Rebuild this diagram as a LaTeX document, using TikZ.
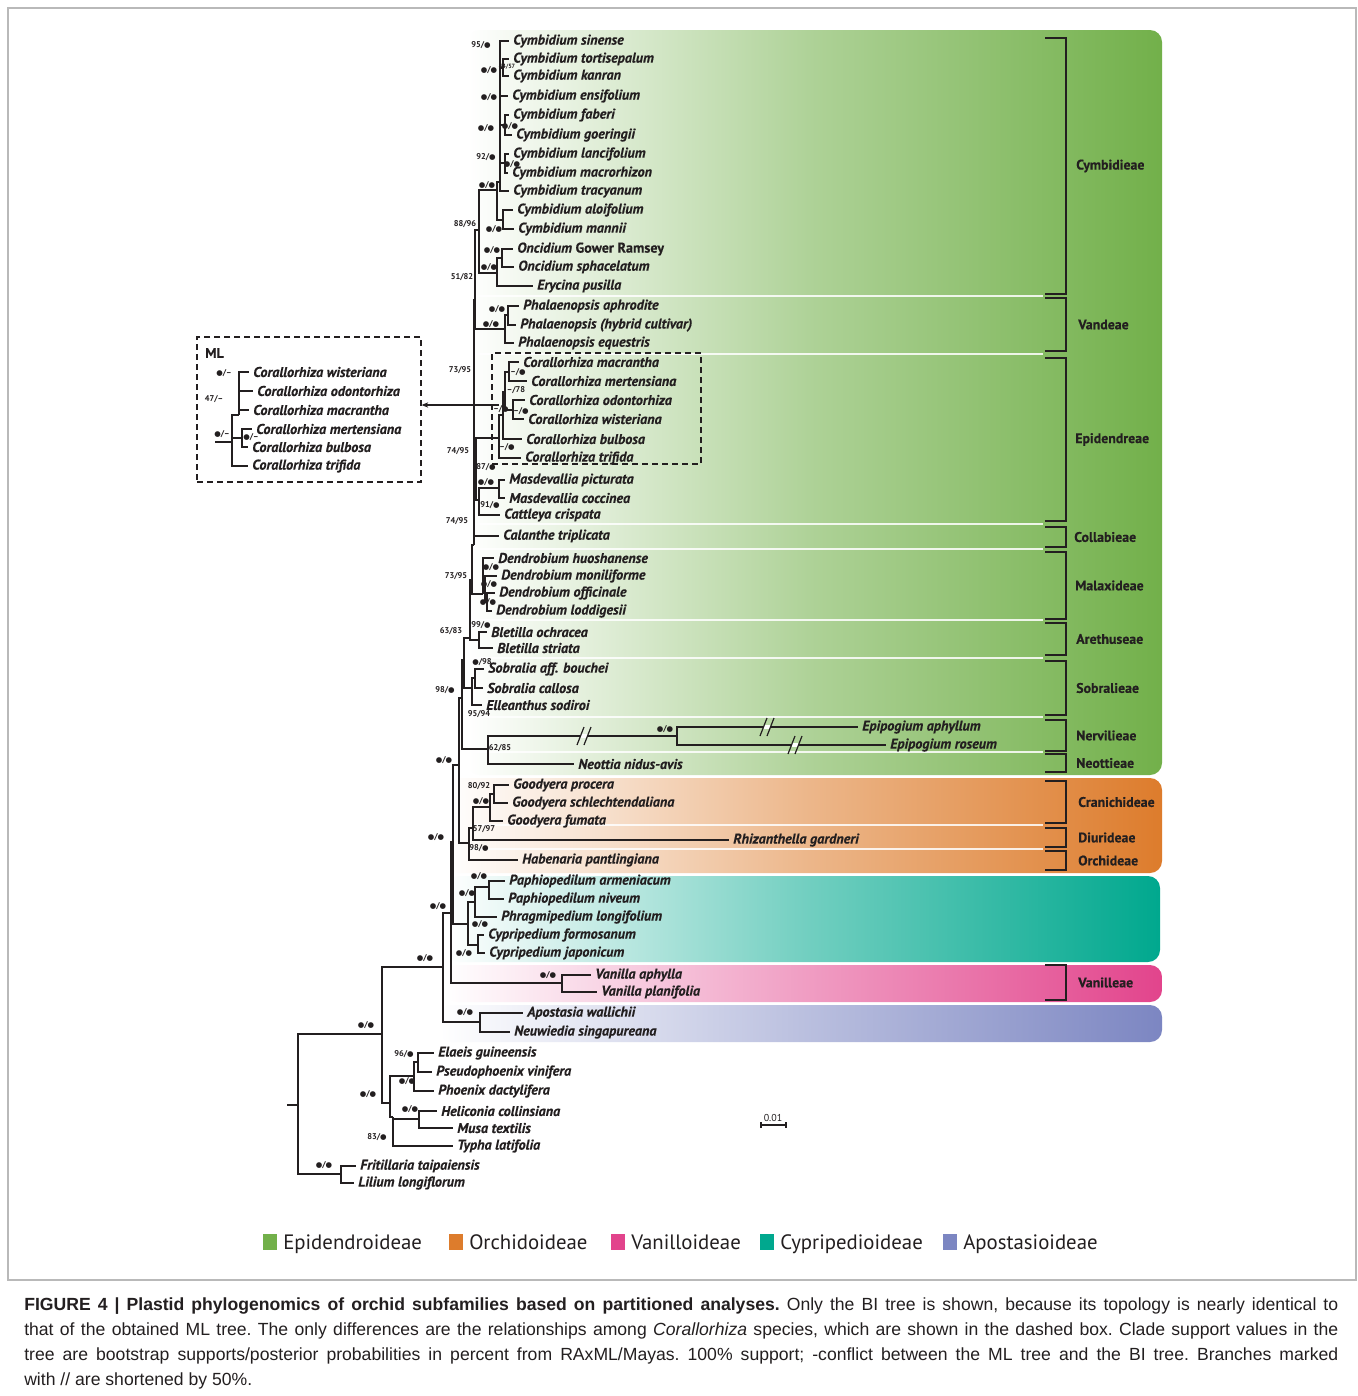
\documentclass[tikz,border=0pt]{standalone}
\usepackage{fontspec}
\setmainfont{PT Sans}
\newfontfamily\taxf{PT Sans}[FakeBold=0.35]
\newfontfamily\capfont{Liberation Sans}
\newfontfamily\symf{DejaVu Sans}
\usetikzlibrary{arrows.meta}
\definecolor{ink}{RGB}{35,31,32}
\definecolor{cEpi}{RGB}{114,176,74}
\definecolor{cOrc}{RGB}{221,124,44}
\definecolor{cVan}{RGB}{226,68,140}
\definecolor{cCyp}{RGB}{0,168,142}
\definecolor{cApo}{RGB}{124,134,194}
\newcommand{\dt}{{\symf\fontsize{5.6}{6}\selectfont ●}}
\newcommand{\dd}{\dt/\dt}
\newcommand{\spt}[4]{\node[supp] (#1) at (#2,#3) {#4};}
\newcommand{\edg}[2]{\draw[branch] (#1) |- (#2);}
\begin{document}
\begin{tikzpicture}[x=0.75pt,y=-0.75pt,
  branch/.style={draw=ink,line width=1pt},
  thickbr/.style={draw=ink,line width=2.2pt},
  taxon/.style={anchor=west,inner xsep=3pt,inner ysep=1pt,text=ink,font=\taxf\fontsize{10.6}{12}\selectfont\bfseries\itshape},
  supp/.style={inner sep=0pt,text=ink,font=\fontsize{6.3}{7}\selectfont\bfseries},
  tribe/.style={anchor=west,inner sep=0pt,text=ink,font=\taxf\fontsize{10.4}{12}\selectfont\bfseries},
  tribebr/.style={draw=ink,line width=1pt},
  legtxt/.style={anchor=base west,inner sep=0pt,text=ink,font=\fontsize{15.6}{18}\selectfont},
  capl/.style={anchor=base west,inner sep=0pt,text=ink,font=\capfont\fontsize{13.2}{15}\selectfont\frenchspacing},
  dbox/.style={draw=ink,dash pattern=on 4.5pt off 3pt,line width=0.9pt,inner sep=0pt},
  slash/.style={draw=ink,line width=0.9pt}
]
\fill[white] (0,0) rectangle (1358,1396);
\useasboundingbox (0,0) rectangle (1358,1396);
\draw[gray!55,line width=0.8pt] (8,8) rectangle (1356,1280);

% ---------- coloured panels ----------
\shade[rounded corners=9pt,left color=white,right color=cEpi,middle color=cEpi!58!white] (468,30) rectangle (1162,775);
\shade[rounded corners=9pt,left color=white,right color=cOrc,middle color=cOrc!55!white] (448,778) rectangle (1162,873);
\shade[rounded corners=9pt,left color=white,right color=cCyp,middle color=cCyp!55!white] (448,876) rectangle (1160,962);
\shade[rounded corners=9pt,left color=white,right color=cVan,middle color=cVan!52!white] (446,965) rectangle (1162,1002);
\shade[rounded corners=9pt,left color=white,right color=cApo,middle color=cApo!52!white] (440,1005) rectangle (1162,1042);
\foreach \yy in {296,354,524,549,620,658,717,752,825,849}
  {\draw[white,line width=2.2pt,opacity=.85] (470,\yy) -- (1043,\yy);}

% ---------- tribe brackets ----------
\foreach \t/\b/\n/\lx in {38/294/Cymbidieae/1076, 298/351/Vandeae/1078, 358/521/Epidendreae/1075, 527/547/Collabieae/1074, 552/619/Malaxideae/1075, 623/655/Arethuseae/1076, 661/715/Sobralieae/1076, 720/751/Nervilieae/1076, 754/772/Neottieae/1076, 781/823/Cranichideae/1078, 828/847/Diurideae/1078, 851/870/Orchideae/1078, 965/1000/Vanilleae/1078}
{
  \draw[tribebr] (1045,\t) -- (1066,\t) -- (1066,\b) -- (1045,\b);
  \node[tribe] (tr-\n) at (\lx,{(\t+\b)/2}) {\n};
}

% ---------- taxon labels ----------
\node[taxon] (c1) at (509,41) {Cymbidium sinense};
\node[taxon] (c2) at (509,59) {Cymbidium tortisepalum};
\node[taxon] (c3) at (509,76) {Cymbidium kanran};
\node[taxon] (c4) at (508,96) {Cymbidium ensifolium};
\node[taxon] (c5) at (509,115) {Cymbidium faberi};
\node[taxon] (c6) at (512,135) {Cymbidium goeringii};
\node[taxon] (c7) at (509,154) {Cymbidium lancifolium};
\node[taxon] (c8) at (508,173) {Cymbidium macrorhizon};
\node[taxon] (c9) at (509,191) {Cymbidium tracyanum};
\node[taxon] (c10) at (513,210) {Cymbidium aloifolium};
\node[taxon] (c11) at (514,229) {Cymbidium mannii};
\node[taxon] (o1) at (513,249) {Oncidium {\upshape Gower Ramsey}};
\node[taxon] (o2) at (514,267) {Oncidium sphacelatum};
\node[taxon] (ery) at (533,286) {Erycina pusilla};
\node[taxon] (p1) at (519,306) {Phalaenopsis aphrodite};
\node[taxon] (p2) at (516,325) {Phalaenopsis (hybrid cultivar)};
\node[taxon] (p3) at (514,343) {Phalaenopsis equestris};
\node[taxon] (co1) at (519,362) {Corallorhiza macrantha};
\node[taxon] (co2) at (527,381) {Corallorhiza mertensiana};
\node[taxon] (co3) at (525,400) {Corallorhiza odontorhiza};
\node[taxon] (co4) at (524,419) {Corallorhiza wisteriana};
\node[taxon] (co5) at (522,439) {Corallorhiza bulbosa};
\node[taxon] (co6) at (521,458) {Corallorhiza trifida};
\node[taxon] (m1) at (505,480) {Masdevallia picturata};
\node[taxon] (m2) at (505,498) {Masdevallia coccinea};
\node[taxon] (cat) at (500,515) {Cattleya crispata};
\node[taxon] (cal) at (499,536) {Calanthe triplicata};
\node[taxon] (d1) at (494,558) {Dendrobium huoshanense};
\node[taxon] (d2) at (497,576) {Dendrobium moniliforme};
\node[taxon] (d3) at (495,593) {Dendrobium officinale};
\node[taxon] (d4) at (492,611) {Dendrobium loddigesii};
\node[taxon] (b1) at (487,632) {Bletilla ochracea};
\node[taxon] (b2) at (493,648) {Bletilla striata};
\node[taxon] (s1) at (484,669) {Sobralia aff. bouchei};
\node[taxon] (s2) at (483,688) {Sobralia callosa};
\node[taxon] (ell) at (482,705) {Elleanthus sodiroi};
\node[taxon] (ep1) at (858,727) {Epipogium aphyllum};
\node[taxon] (ep2) at (886,745) {Epipogium roseum};
\node[taxon] (neo) at (574,764) {Neottia nidus-avis};
\node[taxon] (g1) at (509,785) {Goodyera procera};
\node[taxon] (g2) at (508,803) {Goodyera schlechtendaliana};
\node[taxon] (g3) at (503,821) {Goodyera fumata};
\node[taxon] (rh) at (729,840) {Rhizanthella gardneri};
\node[taxon] (hab) at (518,860) {Habenaria pantlingiana};
\node[taxon] (pa1) at (505,881) {Paphiopedilum armeniacum};
\node[taxon] (pa2) at (504,899) {Paphiopedilum niveum};
\node[taxon] (ph) at (497,917) {Phragmipedium longifolium};
\node[taxon] (cy1) at (484,935) {Cypripedium formosanum};
\node[taxon] (cy2) at (485,953) {Cypripedium japonicum};
\node[taxon] (v1) at (591,975) {Vanilla aphylla};
\node[taxon] (v2) at (597,992) {Vanilla planifolia};
\node[taxon] (a1) at (523,1013) {Apostasia wallichii};
\node[taxon] (a2) at (510,1032) {Neuwiedia singapureana};
\node[taxon] (el) at (434,1053) {Elaeis guineensis};
\node[taxon] (ps) at (432,1072) {Pseudophoenix vinifera};
\node[taxon] (pd) at (434,1091) {Phoenix dactylifera};
\node[taxon] (he) at (437,1111) {Heliconia collinsiana};
\node[taxon] (mu) at (453,1128) {Musa textilis};
\node[taxon] (ty) at (453,1146) {Typha latifolia};
\node[taxon] (fr) at (356,1166) {Fritillaria taipaiensis};
\node[taxon] (li) at (354,1183) {Lilium longiflorum};

% ---------- internal nodes ----------
\coordinate (rootstub) at (287,1105);
\coordinate (R) at (298,1105);
\coordinate (M) at (382,1034);
\coordinate (L) at (341,1174);
\coordinate (MM) at (390,1103);
\coordinate (Palm) at (414,1076);
\coordinate (PP) at (418,1062);
\coordinate (Z) at (393,1117);
\coordinate (HM) at (419,1119);
\coordinate (O) at (443,967);
\coordinate (Ap) at (480,1022);
\coordinate (VCOE) at (451,913);
\coordinate (Van) at (562,983);
\coordinate (C) at (453,842);
\coordinate (Cyp) at (468,924);
\coordinate (PaPh) at (475,902);
\coordinate (Paph) at (489,887);
\coordinate (CyB) at (478,945);
\coordinate (OE) at (459,765);
\coordinate (Orc) at (469,843);
\coordinate (GR) at (473,828);
\coordinate (Goo) at (490,807);
\coordinate (GoA) at (494,794);
\coordinate (Epi) at (462,698);
\coordinate (NN) at (488,749);
\coordinate (Epip) at (677,736);
\coordinate (Up) at (464,660);
\coordinate (Sob) at (472,688);
\coordinate (SS) at (475,678);
\coordinate (UpA) at (470,638);
\coordinate (Ble) at (479,640);
\coordinate (UpB) at (472,580);
\coordinate (Den) at (483,594);
\coordinate (Da) at (485,585);
\coordinate (Db) at (487,602);
\coordinate (UpC) at (474,545);
\coordinate (X1) at (474,528);
\coordinate (Epd) at (476,455);
\coordinate (MC) at (479,500);
\coordinate (Mas) at (499,488);
\coordinate (Cor) at (499,438);
\coordinate (CorA) at (503,415);
\coordinate (CorB) at (505,392);
\coordinate (MaMe) at (509,372);
\coordinate (OW) at (513,410);
\coordinate (VC) at (475,300);
\coordinate (Vd) at (505,329);
\coordinate (Pa) at (508,315);
\coordinate (CyA) at (479,230);
\coordinate (Cymb) at (497,190);
\coordinate (K1) at (500,182);
\coordinate (K2) at (500,162);
\coordinate (LM) at (505,163);
\coordinate (K3) at (500,128);
\coordinate (FG) at (505,125);
\coordinate (K4) at (500,100);
\coordinate (K5) at (500,72);
\coordinate (TK) at (503,68);
\coordinate (AM) at (503,220);
\coordinate (OE2) at (497,273);
\coordinate (Onc) at (502,258);

% ---------- branches ----------
\draw[branch] (rootstub) -- (R);
\edg{R}{M} \edg{R}{L}
\edg{L}{fr.west} \edg{L}{li.west}
\edg{M}{O} \edg{M}{MM}
\edg{MM}{Palm} \edg{MM}{Z}
\edg{Palm}{PP} \edg{Palm}{pd.west}
\edg{PP}{el.west} \edg{PP}{ps.west}
\edg{Z}{HM} \edg{Z}{ty.west}
\edg{HM}{he.west} \edg{HM}{mu.west}
\edg{O}{VCOE} \edg{O}{Ap}
\edg{Ap}{a1.west} \edg{Ap}{a2.west}
\edg{VCOE}{C} \edg{VCOE}{Van}
\edg{Van}{v1.west} \edg{Van}{v2.west}
\edg{C}{OE} \edg{C}{Cyp}
\edg{Cyp}{PaPh} \edg{Cyp}{CyB}
\edg{PaPh}{Paph} \edg{PaPh}{ph.west}
\edg{Paph}{pa1.west} \edg{Paph}{pa2.west}
\edg{CyB}{cy1.west} \edg{CyB}{cy2.west}
\edg{OE}{Epi} \edg{OE}{Orc}
\edg{Orc}{GR} \edg{Orc}{hab.west}
\edg{GR}{Goo} \edg{GR}{rh.west}
\edg{Goo}{GoA} \edg{Goo}{g3.west}
\edg{GoA}{g1.west} \edg{GoA}{g2.west}
\edg{Epi}{Up} \edg{Epi}{NN}
\edg{NN}{Epip} \edg{NN}{neo.west}
\edg{Epip}{ep1.west} \edg{Epip}{ep2.west}
\edg{Up}{UpA} \edg{Up}{Sob}
\edg{Sob}{SS} \edg{Sob}{ell.west}
\edg{SS}{s1.west} \edg{SS}{s2.west}
\edg{UpA}{UpB} \edg{UpA}{Ble}
\edg{Ble}{b1.west} \edg{Ble}{b2.west}
\edg{UpB}{UpC} \edg{UpB}{Den}
\edg{Den}{d1.west} \edg{Den}{Da}
\edg{Da}{d2.west} \edg{Da}{Db}
\edg{Db}{d3.west} \edg{Db}{d4.west}
\edg{UpC}{cal.west} \edg{UpC}{X1}
\edg{X1}{Epd} \edg{X1}{VC}
\edg{Epd}{Cor} \edg{Epd}{MC}
\edg{MC}{Mas} \edg{MC}{cat.west}
\edg{Mas}{m1.west} \edg{Mas}{m2.west}
\edg{Cor}{CorA} \edg{Cor}{co6.west}
\edg{CorA}{CorB} \edg{CorA}{co5.west}
\edg{CorB}{MaMe} \edg{CorB}{OW}
\edg{MaMe}{co1.west} \edg{MaMe}{co2.west}
\edg{OW}{co3.west} \edg{OW}{co4.west}
\edg{VC}{CyA} \edg{VC}{Vd}
\edg{Vd}{Pa} \edg{Vd}{p3.west}
\edg{Pa}{p1.west} \edg{Pa}{p2.west}
\edg{CyA}{Cymb} \edg{CyA}{OE2}
\edg{OE2}{Onc} \edg{OE2}{ery.west}
\edg{Onc}{o1.west} \edg{Onc}{o2.west}
\edg{Cymb}{K1} \edg{Cymb}{AM}
\edg{AM}{c10.west} \edg{AM}{c11.west}
\edg{K1}{c9.west} \edg{K1}{K2}
\edg{K2}{LM} \edg{K2}{K3}
\edg{LM}{c7.west} \edg{LM}{c8.west}
\edg{K3}{FG} \edg{K3}{K4}
\edg{FG}{c5.west} \edg{FG}{c6.west}
\edg{K4}{c4.west} \edg{K4}{K5}
\edg{K5}{TK} \edg{K5}{c1.west}
\edg{TK}{c2.west} \edg{TK}{c3.west}
% thick segments
\draw[thickbr] (K5 |- c1.west) -- (K1 |- c9.west);
\draw[thickbr] (X1 |- Cor) -- (UpC |- cal.west);
\draw[thickbr] (MaMe |- co1.west) -- (MaMe |- co2.west);
\draw[thickbr] (PP |- el.west) -- (PP |- ps.west);

% ---------- // breaks ----------
\coordinate (bk1) at (584,736);
\coordinate (bk2) at (767,727);
\coordinate (bk3) at (795,745);
\foreach \b in {bk1,bk2,bk3}{
  \draw[white,line width=2.5pt] (\b) ++(-3,0) -- ++(6,0);
  \draw[slash] (\b) ++(-7,9) -- ++(7,-18);
  \draw[slash] (\b) ++(0,9) -- ++(7,-18);
}

% ---------- support values ----------
\spt{sa1}{481}{45}{95/\dt}
\spt{sa2}{489}{70}{\dd}
\spt{sa3}{507}{67}{\fontsize{4.6}{5}\selectfont 44/57}
\spt{sa4}{489}{97}{\dd}
\spt{sa5}{486}{128}{\dd}
\spt{sa6}{510}{126}{\dd}
\spt{sa7}{486}{157}{92/\dt}
\spt{sa8}{512}{164}{\dd}
\spt{sa9}{487}{185}{\dd}
\spt{sa10}{465}{224}{88/96}
\spt{sa11}{494}{229}{\dd}
\spt{sa12}{492}{250}{\dd}
\spt{sa13}{489}{267}{\dd}
\spt{sa14}{462}{277}{51/82}
\spt{sb1}{497}{309}{\dd}
\spt{sb2}{491}{324}{\dd}
\spt{sc1}{460}{370}{73/95}
\spt{sc2}{518}{372}{–/\dt}
\spt{sc3}{516}{390}{–/78}
\spt{sc4}{501}{409}{–/\dt}
\spt{sc5}{521}{411}{–/\dt}
\spt{sc6}{458}{451}{74/95}
\spt{sc7}{507}{447}{–/\dt}
\spt{sc8}{486}{467}{87/\dt}
\spt{sc9}{486}{482}{\dd}
\spt{sc10}{490}{505}{91/\dt}
\spt{sc11}{457}{521}{74/95}
\spt{sd1}{491}{567}{\dd}
\spt{sd2}{456}{576}{73/95}
\spt{sd3}{489}{584}{\dd}
\spt{sd4}{488}{602}{\dd}
\spt{sd5}{481}{625}{99/\dt}
\spt{sd6}{451}{631}{63/83}
\spt{sd7}{482}{662}{\dt/98}
\spt{sd8}{445}{690}{98/\dt}
\spt{sd9}{479}{714}{95/94}
\spt{sd10}{665}{729}{\dd}
\spt{sd11}{500}{748}{62/85}
\spt{sd12}{444}{760}{\dd}
\spt{se1}{479}{786}{80/92}
\spt{se2}{481}{801}{\dd}
\spt{se3}{484}{829}{57/97}
\spt{se4}{436}{837}{\dd}
\spt{se5}{479}{848}{98/\dt}
\spt{sf1}{479}{876}{\dd}
\spt{sf2}{467}{893}{\dd}
\spt{sf3}{438}{906}{\dd}
\spt{sf4}{480}{924}{\dd}
\spt{sf5}{464}{953}{\dd}
\spt{sf6}{425}{958}{\dd}
\spt{sf7}{548}{975}{\dd}
\spt{sf8}{465}{1012}{\dd}
\spt{sf9}{366}{1025}{\dd}
\spt{sg1}{404}{1054}{96/\dt}
\spt{sg2}{407}{1081}{\dd}
\spt{sg3}{368}{1094}{\dd}
\spt{sg4}{410}{1109}{\dd}
\spt{sg5}{377}{1137}{83/\dt}
\spt{sg6}{324}{1165}{\dd}

% ---------- dashed boxes ----------
\node[dbox,minimum width=156.75pt,minimum height=83.25pt] (bibox) at (596.5,408.5) {};
\node[dbox,minimum width=168pt,minimum height=108.75pt] (mlbox) at (309,409.5) {};
\coordinate (arrS) at (499,405);
\draw[draw=ink,line width=0.8pt,-{Stealth[length=5pt,width=4pt]}] (arrS) -- (mlbox.east |- arrS);

% ---------- ML inset ----------
\node[anchor=west,inner sep=0pt,text=ink,font=\taxf\fontsize{10.6}{12}\selectfont\bfseries] (mltitle) at (205,353) {ML};
\node[taxon] (mw) at (249,372) {Corallorhiza wisteriana};
\node[taxon] (mo) at (253,391) {Corallorhiza odontorhiza};
\node[taxon] (mma) at (249,410) {Corallorhiza macrantha};
\node[taxon] (mme) at (252,429) {Corallorhiza mertensiana};
\node[taxon] (mb) at (248,447) {Corallorhiza bulbosa};
\node[taxon] (mt) at (248,466) {Corallorhiza trifida};
\coordinate (MLstub) at (215,442);
\coordinate (MLr) at (232,442);
\coordinate (MLa) at (239,415);
\coordinate (MLb) at (242,438);
\draw[branch] (MLstub) -- (MLr);
\edg{MLr}{MLa} \edg{MLr}{MLb} \edg{MLr}{mt.west}
\edg{MLa}{mw.west} \edg{MLa}{mo.west} \edg{MLa}{mma.west}
\edg{MLb}{mme.west} \edg{MLb}{mb.west}
\spt{sm1}{224}{373}{\dt/–}
\spt{sm2}{214}{399}{47/–}
\spt{sm3}{222}{434}{\dt/–}
\spt{sm4}{251}{437}{\dt/–}

% ---------- scale bar ----------
\coordinate (sb1) at (761,1125);
\coordinate (sb2) at (786,1125);
\draw[draw=ink,line width=1pt] (sb1) -- (sb2);
\draw[draw=ink,line width=1pt] (sb1) ++(0,-3) -- ++(0,6);
\draw[draw=ink,line width=1pt] (sb2) ++(0,-3) -- ++(0,6);
\node[inner sep=0pt,text=ink,font=\fontsize{7.5}{8}\selectfont] (sbl) at (773,1118) {0.01};

% ---------- legend ----------
\fill[cEpi] (263,1234) rectangle (277,1250);
\node[legtxt] (lg1) at (283,1249) {Epidendroideae};
\fill[cOrc] (449,1234) rectangle (463,1250);
\node[legtxt] (lg2) at (469,1249) {Orchidoideae};
\fill[cVan] (611,1234) rectangle (625,1250);
\node[legtxt] (lg3) at (631,1249) {Vanilloideae};
\fill[cCyp] (760,1234) rectangle (774,1250);
\node[legtxt] (lg4) at (780,1249) {Cypripedioideae};
\fill[cApo] (943,1234) rectangle (957,1250);
\node[legtxt] (lg5) at (963,1249) {Apostasioideae};

% ---------- caption ----------
\node[capl] (cap1) at (24,1310) {\makebox[985.5pt][s]{\textbf{FIGURE 4 | Plastid phylogenomics of orchid subfamilies based on partitioned analyses.} Only the BI tree is shown, because its topology is nearly identical to}};
\node[capl] (cap2) at (24,1335) {\makebox[985.5pt][s]{that of the obtained ML tree. The only differences are the relationships among \textit{Corallorhiza} species, which are shown in the dashed box. Clade support values in the}};
\node[capl] (cap3) at (24,1360) {\makebox[985.5pt][s]{tree are bootstrap supports/posterior probabilities in percent from RAxML/Mayas. 100\% support; -conflict between the ML tree and the BI tree. Branches marked}};
\node[capl] (cap4) at (24,1385) {with // are shortened by 50\%.};
\end{tikzpicture}
\end{document}
